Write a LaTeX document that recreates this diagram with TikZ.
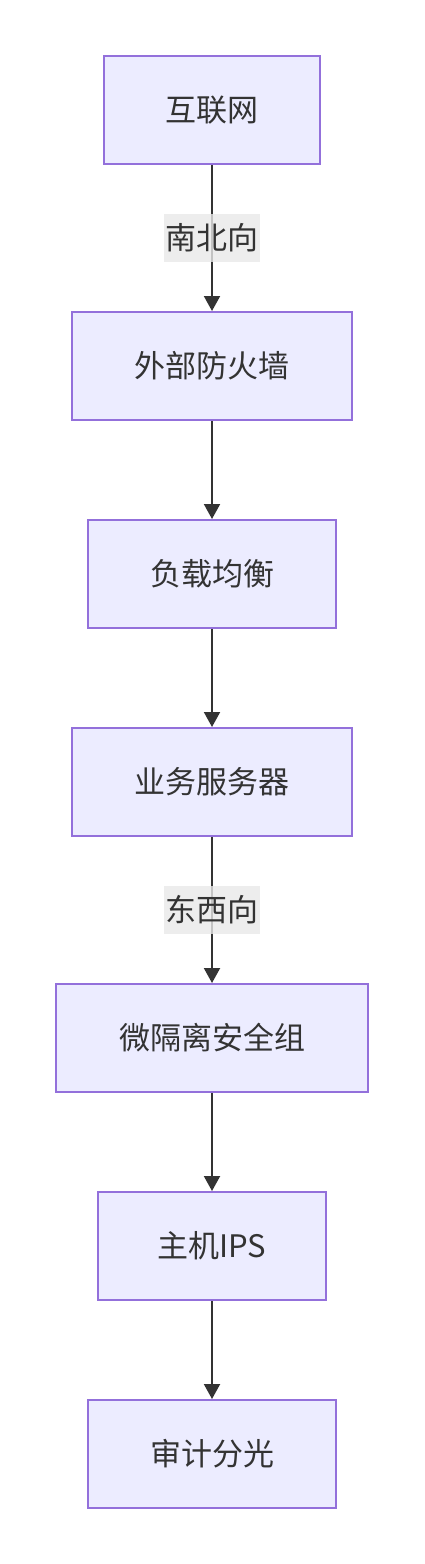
\documentclass[tikz,border=0pt]{standalone}
\usepackage{fontspec}
\setmainfont{Noto Sans CJK SC}
\usetikzlibrary{arrows.meta}
\definecolor{boxfill}{HTML}{ECECFF}
\definecolor{boxline}{HTML}{9370DB}
\definecolor{ink}{HTML}{333333}
\definecolor{labelbg}{HTML}{E8E8E8}
\begin{document}
\begin{tikzpicture}[x=0.5pt,y=-0.5pt,
    box/.style={draw=boxline, fill=boxfill, line width=1pt, minimum height=54pt,
        text=ink, font=\fontsize{15.5}{18}\selectfont},
    flow/.style={draw=ink, line width=1pt, -{Triangle[length=7.5pt,width=8pt]}},
    edgelabel/.style={fill=labelbg, fill opacity=0.8, text opacity=1, text=ink,
        minimum width=48pt, minimum height=24pt, inner sep=0pt,
        font=\fontsize{15.5}{18}\selectfont}]
    \useasboundingbox (0,0) rectangle (424,1564);

    % Boxes, top to bottom
    \node[box, minimum width=108pt] (net) at (212,110) {互联网};
    \node[box, minimum width=140pt] (fw) at (212,366) {外部防火墙};
    \node[box, minimum width=124pt] (lb) at (212,574) {负载均衡};
    \node[box, minimum width=140pt] (app) at (212,782) {业务服务器};
    \node[box, minimum width=156pt] (micro) at (212,1038) {微隔离安全组};
    \node[box, minimum width=114pt] (ips) at (212,1246) {主机IPS};
    \node[box, minimum width=124pt] (audit) at (212,1454) {审计分光};

    % Connectors
    \draw[flow] (net) -- node[edgelabel] {南北向} (fw);
    \draw[flow] (fw) -- (lb);
    \draw[flow] (lb) -- (app);
    \draw[flow] (app) -- node[edgelabel] {东西向} (micro);
    \draw[flow] (micro) -- (ips);
    \draw[flow] (ips) -- (audit);
\end{tikzpicture}
\end{document}
